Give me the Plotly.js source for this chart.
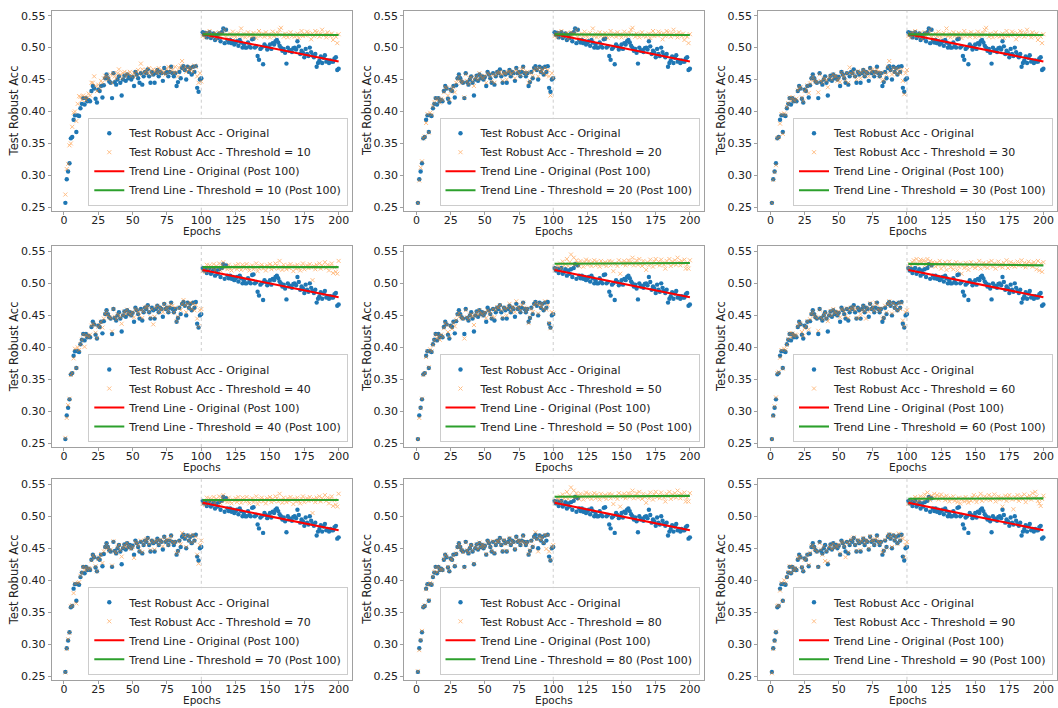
<!DOCTYPE html>
<html>
<head>
<meta charset="utf-8">
<script src="https://cdn.plot.ly/plotly-3.0.1.min.js"></script>
<style>html,body{margin:0;padding:0;background:#fff;}#chart{width:1058px;height:708px;}</style>
</head>
<body>
<div id="chart"></div>
<script>
// Values in thousandths (0.001 units).
const EPOCHS = Array.from({length: 200}, (_, i) => i + 1);
const THRESHOLDS = [10, 20, 30, 40, 50, 60, 70, 80, 90];
const X_TICKS = [0, 25, 50, 75, 100, 125, 150, 175, 200];
const Y_TICKS = [0.25, 0.30, 0.35, 0.40, 0.45, 0.50, 0.55];
const X_TITLE = 'Epochs';
const Y_TITLE = 'Test Robust Acc';

const ORIG_PRE = [257,294,306,319,358,360,387,394,368,394,
393,405,412,421,411,421,416,418,416,432,
440,436,420,414,434,432,440,422,441,452,
458,452,447,445,421,460,446,442,450,455,
445,425,450,456,448,458,452,455,450,454,
440,462,458,452,445,460,442,455,462,460,
466,455,445,462,458,445,460,465,455,462,
460,448,468,460,462,455,462,470,460,455,
460,440,446,462,452,468,471,465,450,470,
462,468,458,470,462,471,437,431,450,452];
const ORIG_POST = [524,520,523,516,522,524,515,518,522,512,
520,515,522,510,524,530,507,528,512,508,
512,507,510,505,508,510,503,512,508,500,
505,500,500,508,502,500,513,514,500,502,
487,481,498,500,474,505,502,497,500,505,
498,507,505,510,512,508,503,500,495,498,
492,475,500,495,496,493,499,500,497,510,
502,490,495,492,485,498,490,487,500,493,
488,485,490,470,476,480,486,476,484,488,
478,480,476,480,478,478,483,485,465,467];

const T10_PRE = [270,310,318,347,350,376,398,400,385,412,
424,423,418,425,422,418,422,428,425,445,
445,455,440,432,442,436,448,445,452,456,
455,450,452,458,445,460,455,452,460,466,
458,452,460,462,455,460,458,462,455,458,
460,455,462,465,458,475,466,460,462,465,
460,468,462,458,466,462,465,460,468,462,
465,460,462,458,466,470,462,468,465,460,
470,462,455,468,472,479,466,470,462,468,
465,470,466,462,472,470,455,445,460,447];
const T20_PRE = [257,292,312,322,358,361,382,396,367,398,
395,408,414,420,418,420,414,420,418,430,
438,437,425,418,432,436,438,430,445,450,
455,448,445,447,422,458,448,443,452,454,
447,440,452,455,450,460,455,453,452,456,
445,460,458,455,447,458,445,457,460,461,
462,458,448,460,460,450,462,463,458,460,
462,452,466,462,460,457,466,468,462,458,
462,445,448,460,455,465,468,466,455,468,
462,466,460,468,457,465,455,425,460,452];
const T30_PRE = [257,293,305,316,358,360,381,396,365,397,
395,407,413,422,417,422,418,416,420,433,
437,438,422,416,432,435,441,429,444,450,
455,450,446,447,430,458,448,445,451,452,
448,438,453,455,450,458,455,455,448,452,
446,461,457,454,448,460,445,469,460,458,
462,455,450,463,460,452,461,465,456,462,
461,455,466,462,466,458,462,466,462,455,
461,448,450,460,458,470,479,464,458,468,
461,467,459,466,460,466,448,427,460,465];
const T40_PRE = [259,290,310,320,357,360,383,398,368,400,
396,405,412,420,401,419,418,416,420,434,
437,435,423,415,432,435,440,431,445,452,
456,450,447,446,425,460,448,444,452,450,
447,437,450,456,452,459,454,452,450,455,
447,460,458,455,450,458,446,456,462,463,
464,456,447,460,436,448,462,465,455,462,
460,455,468,461,462,456,464,468,465,455,
462,441,448,462,458,468,474,466,455,468,
462,470,460,468,458,466,445,433,458,460];
const T50_PRE = [257,290,305,320,357,360,385,394,369,397,
394,404,411,420,414,418,412,420,417,430,
438,435,424,417,433,429,438,433,443,450,
454,449,446,445,414,458,447,444,450,452,
448,435,450,455,451,458,453,452,450,455,
446,458,456,453,447,460,447,458,463,462,
466,458,447,462,460,450,462,468,457,463,
462,455,472,463,461,457,466,470,462,456,
461,438,447,460,455,466,470,468,453,468,
463,468,460,472,459,466,438,430,455,453];
const T60_PRE = [257,293,308,322,360,362,384,396,367,398,
396,404,413,422,416,422,418,420,419,433,
438,437,424,418,430,433,441,428,444,452,
456,450,448,446,426,459,447,444,451,454,
446,441,451,457,450,460,455,454,451,456,
447,460,459,456,449,461,446,458,462,460,
463,458,446,461,446,452,458,464,457,445,
462,456,469,460,463,457,470,467,460,457,
461,445,447,465,455,468,472,466,453,469,
461,466,458,470,460,469,442,433,455,458];
const T70_PRE = [256,293,308,318,359,361,380,395,364,396,
397,407,412,421,416,420,417,419,418,431,
439,436,422,414,433,436,441,427,445,451,
456,451,446,448,423,461,445,443,452,455,
447,437,451,455,452,458,453,451,449,452,
435,460,458,454,446,462,444,456,462,464,
465,457,447,462,459,448,461,463,456,463,
460,453,467,461,464,455,463,469,460,458,
460,442,445,461,456,474,470,467,452,470,
462,469,459,471,461,468,440,426,455,462];
const T80_PRE = [258,291,307,321,358,361,386,393,369,396,
394,406,413,420,413,421,417,417,416,433,
440,437,421,415,433,432,439,423,442,451,
457,452,447,444,420,459,447,443,451,455,
446,426,451,456,449,459,452,456,451,454,
441,461,459,453,446,461,443,456,461,461,
465,456,446,463,457,446,459,466,456,461,
459,449,467,461,462,456,461,469,459,456,
459,441,447,461,453,467,475,464,445,469,
463,467,459,471,449,470,445,432,452,455];
const T90_PRE = [255,293,305,320,360,361,384,396,368,400,
395,405,413,422,412,421,415,419,417,434,
438,435,421,415,432,434,440,424,443,453,
455,450,448,445,421,458,448,440,453,430,
446,428,452,455,449,457,451,454,452,456,
442,460,459,453,436,460,444,457,463,465,
467,456,446,463,459,447,461,466,457,462,
461,450,469,462,463,456,464,468,461,457,
460,443,447,463,451,469,472,466,452,471,
463,468,457,473,463,470,465,436,455,460];

// Post-100 threshold values (shared where the panels show the same points)
const POST_A = [518,522,516,524,520,526,517,521,519,523,
514,520,524,518,522,521,528,516,520,513,
522,518,525,519,516,521,523,519,530,518,
522,516,520,524,518,521,517,523,519,515,
521,526,518,520,522,517,524,519,521,516,
520,525,518,522,519,523,528,531,520,517,
522,519,516,521,524,518,520,517,519,522,
515,520,526,518,521,519,525,523,520,513,
522,518,526,524,520,517,522,528,519,521,
516,524,520,518,522,512,519,517,507,521];
const POST_B = [519,523,518,529,522,528,526,524,530,521,
527,525,531,520,528,533,524,526,522,529,
523,520,526,524,528,522,530,525,521,529,
527,523,530,524,520,526,528,522,525,531,
519,524,527,529,523,526,520,528,525,530,
522,527,524,531,528,523,535,526,521,529,
525,522,528,524,530,526,519,527,523,529,
524,520,527,531,522,526,528,524,530,525,
505,527,522,529,525,531,523,528,526,533,
524,529,520,527,531,516,525,518,515,535];
const POST_C = [524,521,529,526,531,523,534,528,530,538,
527,533,545,530,540,529,536,532,527,535,
531,526,533,537,529,535,530,527,533,536,
528,534,530,526,535,531,529,533,527,532,
535,528,534,519,531,530,527,536,515,533,
530,535,528,532,536,530,534,540,528,532,
536,529,538,531,527,535,530,521,533,528,
537,531,526,534,538,530,534,528,537,532,
529,523,535,531,538,527,534,530,536,529,
540,533,528,535,531,537,523,529,523,536];
const POST_D = [524,530,527,533,536,531,538,529,534,537,
532,536,528,534,538,530,535,527,533,531,
526,532,529,535,523,530,527,533,521,529,
534,525,530,522,528,533,520,526,531,515,
528,524,532,527,521,530,533,526,529,524,
531,527,535,523,529,532,526,530,524,533,
528,535,526,531,523,529,534,527,530,525,
532,528,536,524,530,533,527,531,526,529,
534,528,531,536,527,532,525,530,534,528,
531,526,533,529,522,535,520,531,518,533];
const POST_E = [519,523,521,527,525,530,522,528,524,531,
526,529,534,527,537,530,525,532,528,535,
529,533,526,531,534,528,530,525,532,527,
523,529,526,531,524,527,522,529,520,526,
528,523,530,525,521,527,524,529,533,526,
522,530,527,535,524,529,531,526,528,533,
525,530,527,534,523,528,531,526,529,515,
527,532,524,530,533,528,526,511,530,527,
533,524,529,531,527,534,522,530,528,532,
526,536,529,538,531,524,520,516,527,532];

const THRESH_PRE = [T10_PRE, T20_PRE, T30_PRE, T40_PRE, T50_PRE, T60_PRE, T70_PRE, T80_PRE, T90_PRE];
const THRESH_POST = [POST_A, POST_A, POST_A, POST_B, POST_C, POST_D, POST_B, POST_C, POST_E];

const toAcc = a => a.map(v => v / 1000);
const ORIG = toAcc(ORIG_PRE.concat(ORIG_POST));

function fitLine(xs, ys) {
  const n = xs.length;
  let sx = 0, sy = 0, sxx = 0, sxy = 0;
  for (let i = 0; i < n; i++) { sx += xs[i]; sy += ys[i]; sxx += xs[i]*xs[i]; sxy += xs[i]*ys[i]; }
  const m = (n*sxy - sx*sy) / (n*sxx - sx*sx);
  const b = (sy - m*sx) / n;
  return xs.map(x => m*x + b);
}

const POST_X = EPOCHS.filter(e => e > 100);
const ORIG_TREND = fitLine(POST_X, ORIG.slice(100));

// Layout geometry (pixels)
const W = 1058, H = 708;
const COLS = [[51.7, 352.3], [404.3, 703.5], [758.3, 1057]];
const ROWS = [[10.7, 210.7], [246.3, 447], [479.2, 679.8]];
const Y_RANGE = [0.2447, 0.5578];

const FONT = 'DejaVu Sans, Liberation Sans, sans-serif';
const TXT = '#222222';
const traces = [];
const layout = {
  width: W, height: H,
  margin: {l: 0, r: 0, t: 0, b: 0},
  paper_bgcolor: '#ffffff', plot_bgcolor: '#ffffff',
  font: {family: FONT, size: 11, color: TXT},
  showlegend: true,
  shapes: [],
  annotations: []
};

THRESHOLDS.forEach((T, k) => {
  const i = k + 1;
  const r = Math.floor(k / 3), c = k % 3;
  const sfx = i === 1 ? '' : String(i);
  const xa = 'x' + sfx, ya = 'y' + sfx, lg = 'legend' + sfx;
  const thr = toAcc(THRESH_PRE[k].concat(THRESH_POST[k]));
  const thrTrend = fitLine(POST_X, thr.slice(100));

  traces.push({
    type: 'scatter', mode: 'markers', x: EPOCHS, y: ORIG,
    name: 'Test Robust Acc - Original', xaxis: xa, yaxis: ya, legend: lg,
    marker: {color: '#1f77b4', size: 4.4, symbol: 'circle', line: {width: 0}}
  });
  traces.push({
    type: 'scatter', mode: 'markers', x: EPOCHS, y: thr,
    name: 'Test Robust Acc - Threshold = ' + T, xaxis: xa, yaxis: ya, legend: lg,
    opacity: 0.5,
    marker: {color: '#ff7f0e', size: 4, symbol: 'x-thin', line: {color: '#ff7f0e', width: 1}}
  });
  traces.push({
    type: 'scatter', mode: 'lines', x: POST_X, y: ORIG_TREND,
    name: 'Trend Line - Original (Post 100)', xaxis: xa, yaxis: ya, legend: lg,
    line: {color: '#ff0000', width: 2.1}
  });
  traces.push({
    type: 'scatter', mode: 'lines', x: POST_X, y: thrTrend,
    name: 'Trend Line - Threshold = ' + T + ' (Post 100)', xaxis: xa, yaxis: ya, legend: lg,
    line: {color: '#2ca02c', width: 2.1}
  });

  const axisCommon = {
    showgrid: false, zeroline: false, showline: true, mirror: true,
    linecolor: '#a0a0a0', linewidth: 1,
    ticks: 'outside', ticklen: 3, tickwidth: 1, tickcolor: '#a0a0a0',
    tickfont: {family: FONT, size: 11, color: TXT}
  };
  layout['xaxis' + sfx] = Object.assign({}, axisCommon, {
    domain: [COLS[c][0] / W, COLS[c][1] / W],
    anchor: ya,
    range: [1 - 0.05 * 199, 200 + 0.05 * 199],
    ticklabelstandoff: -4,
    tickmode: 'array', tickvals: X_TICKS, ticktext: X_TICKS.map(String)
  });
  layout['yaxis' + sfx] = Object.assign({}, axisCommon, {
    domain: [1 - ROWS[r][1] / H, 1 - ROWS[r][0] / H],
    anchor: xa,
    range: Y_RANGE,
    tickmode: 'array', tickvals: Y_TICKS, ticktext: Y_TICKS.map(v => v.toFixed(2))
  });
  layout[lg] = {
    x: (COLS[c][1] - 4) / W, y: 1 - (ROWS[r][1] - 5) / H,
    xanchor: 'right', yanchor: 'bottom',
    xref: 'paper', yref: 'paper',
    bgcolor: 'rgba(255,255,255,0.85)', bordercolor: '#cccccc', borderwidth: 1,
    font: {family: FONT, size: 11, color: TXT},
    tracegroupgap: 0, itemsizing: 'trace'
  };
  layout.shapes.push({
    type: 'line', xref: xa, yref: ya + ' domain',
    x0: 100, x1: 100, y0: 0, y1: 1,
    line: {color: '#c0c0c0', width: 0.8, dash: 'dot'}
  });
  // axis titles
  layout.annotations.push({
    text: X_TITLE, xref: 'paper', yref: 'paper', showarrow: false,
    x: (COLS[c][0] + COLS[c][1]) / 2 / W, y: 1 - (ROWS[r][1] + 20) / H,
    xanchor: 'center', yanchor: 'middle', borderpad: 0,
    font: {family: FONT, size: 10.5, color: TXT}
  });
  layout.annotations.push({
    text: Y_TITLE, xref: 'paper', yref: 'paper', showarrow: false, textangle: -90,
    x: (COLS[c][0] - 38) / W, y: 1 - (ROWS[r][0] + ROWS[r][1]) / 2 / H,
    xanchor: 'center', yanchor: 'middle',
    font: {family: FONT, size: 11.5, color: TXT}
  });
});

Plotly.newPlot('chart', traces, layout, {displayModeBar: false, staticPlot: true});
</script>
</body>
</html>
